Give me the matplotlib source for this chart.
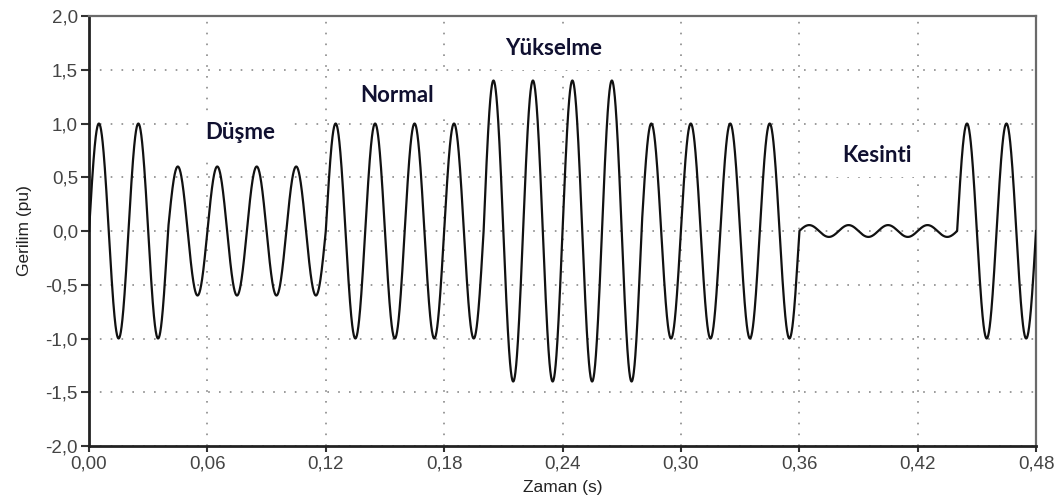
import numpy as np
import matplotlib
matplotlib.use("Agg")
import matplotlib.pyplot as plt

# waveform segments (50 Hz, amplitude in pu)
seg_start = [0.00, 0.04, 0.12, 0.20, 0.28, 0.36, 0.44]
seg_end = [0.04, 0.12, 0.20, 0.28, 0.36, 0.44, 0.48]
seg_amp = [1.0, 0.6, 1.0, 1.4, 1.0, 0.055, 1.0]
freq = 50.0

labels = ["Düşme", "Normal", "Yükselme", "Kesinti"]
label_x = [0.0765, 0.156, 0.2357, 0.3994]
label_y = [0.92, 1.265, 1.70, 0.707]

xticks = [0.00, 0.06, 0.12, 0.18, 0.24, 0.30, 0.36, 0.42, 0.48]
yticks = [-2.0, -1.5, -1.0, -0.5, 0.0, 0.5, 1.0, 1.5, 2.0]

t = np.linspace(0, 0.48, 4801)
v = np.zeros_like(t)
for s, e, a in zip(seg_start, seg_end, seg_amp):
    m = (t >= s) & (t <= e)
    v[m] = a * np.sin(2 * np.pi * freq * t[m])

plt.rcParams['font.family'] = ['Liberation Sans', 'DejaVu Sans']
fig = plt.figure(figsize=(10.56, 5.01), dpi=100)
ax = fig.add_axes([0.0843, 0.1098, 0.8968, 0.8582])

ax.plot(t, v, c='#111111', lw=1.6, zorder=3)

ax.set_xlim(0, 0.48)
ax.set_ylim(-2, 2)
ax.set_xticks(xticks)
ax.set_yticks(yticks)
ax.set_xticklabels([("%.2f" % x).replace('.', ',') for x in xticks])
ax.set_yticklabels([("%.1f" % y).replace('.', ',') for y in yticks])
ax.tick_params(axis='y', direction='out', length=6, width=1.5, colors='#333333',
               labelsize=13.5, labelcolor='#444444', pad=2)
ax.tick_params(axis='x', direction='out', length=4, width=1.5, colors='#333333',
               labelsize=13.5, labelcolor='#444444', pad=3)

ax.grid(True, ls=(0, (1, 5.5)), lw=1.2, color='#8a8a8a', zorder=1)
ax.set_axisbelow(True)

for side in ['left', 'bottom']:
    ax.spines[side].set_color('#222222')
    ax.spines[side].set_linewidth(2)
for side in ['top', 'right']:
    ax.spines[side].set_color('#6a6a6a')
    ax.spines[side].set_linewidth(1.6)

ax.set_xlabel('Zaman (s)', fontsize=12.5, color='#222222', labelpad=5)
ax.set_ylabel('Gerilim (pu)', fontsize=12.5, color='#222222', labelpad=10)

for lab, x, y in zip(labels, label_x, label_y):
    ax.text(x, y, lab, ha='center', va='center', fontsize=16, fontweight='bold',
            family=['Lato', 'DejaVu Sans'], color='#101030', zorder=4,
            bbox=dict(boxstyle='square,pad=0.5', fc='white', ec='none'))

fig.savefig('out.png', dpi=100)
